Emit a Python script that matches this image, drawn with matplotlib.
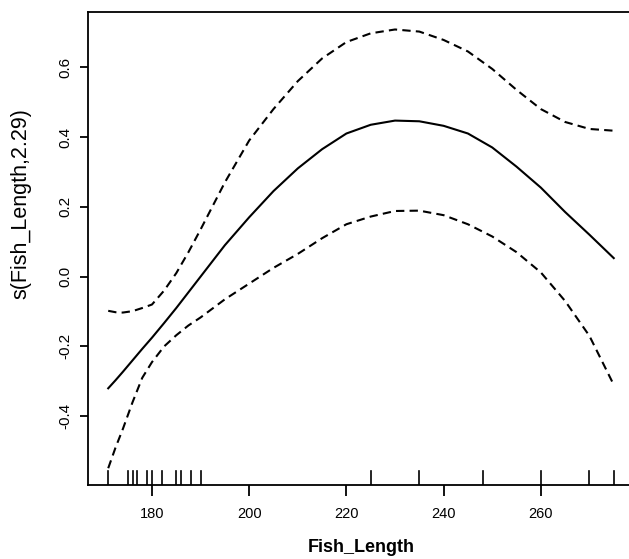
import numpy as np
import matplotlib.pyplot as plt

# fish length grid and smooth term estimate
length = [171, 172.5, 174, 176, 178, 180, 182.5, 185, 187.5, 190, 195, 200, 205,
          210, 215, 220, 225, 230, 235, 240, 245, 250, 255, 260, 265, 270, 275]
fit = [-0.32, -0.297, -0.273, -0.24, -0.207, -0.175, -0.133, -0.09, -0.045, 0.0,
       0.09, 0.17, 0.245, 0.31, 0.365, 0.41, 0.435, 0.447, 0.445, 0.432, 0.41,
       0.37, 0.315, 0.255, 0.185, 0.12, 0.053]
upper = [-0.098, -0.102, -0.103, -0.099, -0.09, -0.08, -0.04, 0.01, 0.07, 0.135,
         0.27, 0.39, 0.48, 0.56, 0.625, 0.672, 0.697, 0.708, 0.702, 0.678, 0.645,
         0.595, 0.535, 0.48, 0.443, 0.423, 0.418]
lower = [-0.549, -0.49, -0.437, -0.36, -0.29, -0.245, -0.2, -0.168, -0.14, -0.117,
         -0.065, -0.02, 0.025, 0.065, 0.11, 0.15, 0.172, 0.188, 0.189, 0.176, 0.15,
         0.115, 0.07, 0.012, -0.07, -0.17, -0.31]

# observed lengths (rug)
rug = [171, 175, 176, 177, 179, 180, 182, 185, 186, 188, 190,
       225, 235, 248, 260, 270, 275]

plt.rcParams['font.family'] = ['Liberation Sans', 'DejaVu Sans']

fig = plt.figure(figsize=(6.29, 5.59), dpi=100)
ax = fig.add_axes([0.1399, 0.1324, 0.868, 0.8467])

ax.plot(length, fit, color='black', lw=1.5)
ax.plot(length, upper, color='black', lw=1.5, dashes=(4, 2.5))
ax.plot(length, lower, color='black', lw=1.5, dashes=(4, 2.5))

ymin, ymax = -0.597, 0.759
for r in rug:
    ax.plot([r, r], [ymin, ymin + 0.03 * (ymax - ymin)], color='black', lw=1.2)

ax.set_xlim(166.84, 279.16)
ax.set_ylim(ymin, ymax)
ax.set_xticks([180, 200, 220, 240, 260])
ax.set_yticks([-0.4, -0.2, 0.0, 0.2, 0.4, 0.6])
ax.set_yticklabels(['-0.4', '-0.2', '0.0', '0.2', '0.4', '0.6'], rotation=90, va='center')

for s in ax.spines.values():
    s.set_linewidth(1.3)
ax.tick_params(axis='x', length=8, width=1.3, labelsize=10.5, pad=8)
ax.tick_params(axis='y', length=6, width=1.3, labelsize=11, pad=5)

ax.set_xlabel('Fish_Length', fontsize=13, fontweight='bold')
ax.xaxis.set_label_coords(0.5, -0.114)
ax.set_ylabel('s(Fish_Length,2.29)', fontsize=15.5)
ax.yaxis.set_label_coords(-0.103, 0.594)

fig.savefig('out.png', dpi=100)
